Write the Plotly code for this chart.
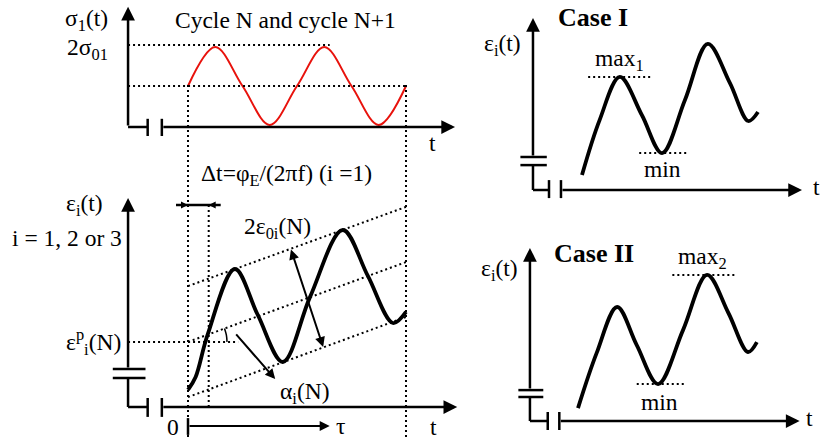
import plotly.graph_objects as go

W, H = 824, 443
FONT = "Liberation Serif"

# ---------------- data (schematic values) ----------------
# top-left: applied stress sigma_1(t); time in cycles, stress in units of sigma_01
stress_t = [0.0, 0.25, 0.5, 0.75, 1.0, 1.25, 1.5, 1.75, 2.0]
stress_v = [1.0, 1.95, 1.0, 0.05, 1.0, 1.95, 1.0, 0.05, 1.0]
stress_levels = [2.0, 1.0]          # 2*sigma_01 and sigma_01 reference levels

# bottom-left: strain response eps_i(t)
strain_t = [0.0, 0.07, 0.18, 0.43, 0.64, 0.87, 1.12, 1.42, 1.65, 1.88, 2.0]
strain_v = [0.57, 1.0, 2.41, 4.6, 3.07, 1.5, 3.67, 5.9, 4.37, 2.8, 3.17]
band_t = [0.0, 2.0]
band_upper = [4.03, 6.67]
band_mid = [2.17, 4.83]
band_lower = [0.33, 3.0]
eps_p = 2.17
delta_t = 0.19

# right: case I and case II strain responses
case1_t = [0.0, 0.2, 0.43, 0.68, 0.91, 1.17, 1.43, 1.68, 1.89, 2.0]
case1_v = [0.5, 2.33, 3.77, 2.5, 1.23, 3.0, 4.87, 3.57, 2.3, 2.6]
case2_t = [0.0, 0.21, 0.44, 0.66, 0.90, 1.18, 1.45, 1.69, 1.91, 2.01]
case2_v = [0.43, 2.27, 3.8, 2.53, 1.23, 3.03, 4.87, 3.6, 2.3, 2.63]


# ---------------- panel frames (pixel boxes -> axis domain / range) ----------------
def frame(px0, px1, py0, py1, x_org, x_scale, y_org, y_scale):
    return (dict(domain=[px0 / W, px1 / W],
                 range=[(px0 - x_org) / x_scale, (px1 - x_org) / x_scale]),
            dict(domain=[1 - py1 / H, 1 - py0 / H],
                 range=[(y_org - py1) / y_scale, (y_org - py0) / y_scale]))


xA, yA = frame(0, 824, 0, 145, 188, 109, 127, 41)
_, yB = frame(0, 824, 145, 443, 188, 109, 407, 30)
xC, yC = frame(470, 824, 0, 215, 582, 88, 190, 30)
xD, yD = frame(470, 824, 215, 443, 578, 89, 421, 30)

fig = go.Figure()
shapes, annos = [], []

BLK = "black"
DOT = "2px,3px"
AW = 2.5
FS = 23.5


def line(xr, yr, x0, y0, x1, y1, width=AW, dash=None, color=BLK):
    d = dict(color=color, width=width)
    if dash:
        d["dash"] = dash
    shapes.append(dict(type="line", xref=xr, yref=yr, x0=x0, y0=y0, x1=x1, y1=y1,
                       line=d, layer="above"))


def arrow(xr, yr, x0, y0, x1, y1, head=2, size=1.1, width=AW, both=False):
    annos.append(dict(xref=xr, yref=yr, axref=xr, ayref=yr, x=x1, y=y1, ax=x0, ay=y0,
                      text="", showarrow=True, arrowhead=head, startarrowhead=head,
                      arrowsize=size, startarrowsize=size, arrowwidth=width,
                      arrowcolor=BLK, standoff=0, startstandoff=0,
                      arrowside="end+start" if both else "end"))


def text(xr, yr, x, y, s, size=FS, xanchor="center", bold=False):
    if bold:
        s = "<b>" + s + "</b>"
    annos.append(dict(xref=xr, yref=yr, x=x, y=y, text=s, showarrow=False,
                      xanchor=xanchor, yanchor="middle",
                      font=dict(family=FONT, size=size, color=BLK)))


def axes_frame(xr, yr, x_ax, y_top, x_end, tick1, tick2, tick_lo, tick_hi,
               brk=None):
    # vertical axis with arrow, optional break, horizontal axis with break ticks
    if brk:
        hi, lo, bx0, bx1 = brk
        arrow(xr, yr, x_ax, hi, x_ax, y_top)
        line(xr, yr, bx0, hi, bx1, hi)
        line(xr, yr, bx0, lo, bx1, lo)
        line(xr, yr, x_ax, lo, x_ax, 0)
    else:
        arrow(xr, yr, x_ax, 0, x_ax, y_top)
    line(xr, yr, x_ax, 0, tick1, 0)
    line(xr, yr, tick1, tick_lo, tick1, tick_hi)
    line(xr, yr, tick2, tick_lo, tick2, tick_hi)
    arrow(xr, yr, tick2, 0, x_end, 0)


# ---------------- panel A: stress ----------------
fig.add_trace(go.Scatter(x=stress_t, y=stress_v, xaxis="x", yaxis="y", mode="lines",
                         line=dict(color="#e8120c", width=2, shape="spline", smoothing=1.0),
                         hoverinfo="skip"))
axes_frame("x", "y", -0.55, 2.93, 2.45, -0.37, -0.24, -0.22, 0.2)
line("x", "y", -0.55, stress_levels[0], 1.30, stress_levels[0], width=2, dash=DOT)
line("x", "y", -0.55, stress_levels[1], stress_t[-1], stress_levels[1], width=2, dash=DOT)
text("x", "y", -0.72, 2.61, "σ<sub>1</sub>(t)", xanchor="right")
text("x", "y", -0.72, 1.90, "2σ<sub>01</sub>", xanchor="right")
text("x", "y", 0.89, 2.61, "Cycle N and cycle N+1")
text("x", "y", 2.24, -0.40, "t")

# vertical dotted guides spanning both left panels
for tt in (stress_t[0], stress_t[-1]):
    shapes.append(dict(type="line", xref="x", yref="paper", x0=tt, x1=tt,
                       y0=1 - 85 / H, y1=1 - 437 / H,
                       line=dict(color=BLK, width=2, dash=DOT)))

# ---------------- panel B: strain ----------------
for band in (band_upper, band_mid, band_lower):
    fig.add_trace(go.Scatter(x=band_t, y=band, xaxis="x", yaxis="y2", mode="lines",
                             line=dict(color=BLK, width=2, dash=DOT), hoverinfo="skip"))
fig.add_trace(go.Scatter(x=strain_t, y=strain_v, xaxis="x", yaxis="y2", mode="lines",
                         line=dict(color=BLK, width=3.8, shape="spline", smoothing=1.0),
                         hoverinfo="skip"))
axes_frame("x", "y2", -0.55, 6.97, 2.47, -0.37, -0.24, -0.33, 0.3,
           brk=(1.27, 0.97, -0.69, -0.39))
line("x", "y2", -0.55, eps_p, 0.46, eps_p, width=2, dash=DOT)
line("x", "y2", delta_t, 6.73, delta_t, 0, width=2, dash=DOT)
line("x", "y2", -0.11, 6.73, 0.30, 6.73)
arrow("x", "y2", -0.11, 6.73, 0.0, 6.73, size=0.7, width=2)
arrow("x", "y2", 0.30, 6.73, delta_t, 6.73, size=0.7, width=2)
# angle arc alpha
fig.add_trace(go.Scatter(x=[0.335, 0.352, 0.358], y=[2.62, 2.40, 2.17], xaxis="x", yaxis="y2",
                         mode="lines", line=dict(color=BLK, width=1.5, shape="spline"),
                         hoverinfo="skip"))
arrow("x", "y2", 0.43, 2.47, 0.80, 0.93, size=1.0, width=2)
arrow("x", "y2", 0.94, 5.30, 1.24, 2.00, size=1.0, width=2, both=True)
# tau ruler
line("x", "y2", 0.0, -0.37, 0.0, -0.93)
arrow("x", "y2", 0.0, -0.63, 1.30, -0.63, size=1.0, width=2)

text("x", "y2", 0.90, 7.73, "Δt=φ<sub>E</sub>/(2πf) (i =1)")
text("x", "y2", -0.95, 6.73, "ε<sub>i</sub>(t)")
text("x", "y2", -1.11, 5.63, "i = 1, 2 or 3")
text("x", "y2", 0.82, 5.97, "2ε<sub>0i</sub>(N)")
text("x", "y2", 1.07, 0.47, "α<sub>i</sub>(N)")
text("x", "y2", -0.60, 2.17, "ε<sup>p</sup><sub>i</sub>(N)", xanchor="right")
text("x", "y2", -0.14, -0.67, "0")
text("x", "y2", 1.40, -0.63, "τ")
text("x", "y2", 2.25, -0.67, "t")

# ---------------- panel C: case I ----------------
fig.add_trace(go.Scatter(x=case1_t, y=case1_v, xaxis="x3", yaxis="y3", mode="lines",
                         line=dict(color=BLK, width=3.8, shape="spline", smoothing=1.0),
                         hoverinfo="skip"))
axes_frame("x3", "y3", -0.557, 5.73, 2.5, -0.375, -0.239, -0.27, 0.33,
           brk=(1.10, 0.83, -0.70, -0.40))
line("x3", "y3", 0.07, case1_v[2], 0.80, case1_v[2], width=2, dash=DOT)
line("x3", "y3", 0.65, case1_v[4], 1.19, case1_v[4], width=2, dash=DOT)
text("x3", "y3", -0.30, 5.75, "Case I", size=26, xanchor="left", bold=True)
text("x3", "y3", -0.90, 4.83, "ε<sub>i</sub>(t)")
text("x3", "y3", 0.43, 4.33, "max<sub>1</sub>")
text("x3", "y3", 0.92, 0.70, "min")
text("x3", "y3", 2.67, 0.10, "t")

# ---------------- panel D: case II ----------------
fig.add_trace(go.Scatter(x=case2_t, y=case2_v, xaxis="x4", yaxis="y4", mode="lines",
                         line=dict(color=BLK, width=3.8, shape="spline", smoothing=1.0),
                         hoverinfo="skip"))
axes_frame("x4", "y4", -0.54, 5.77, 2.49, -0.34, -0.21, -0.30, 0.30,
           brk=(1.03, 0.80, -0.67, -0.39))
line("x4", "y4", 1.06, case2_v[6], 1.76, case2_v[6], width=2, dash=DOT)
line("x4", "y4", 0.66, case2_v[4], 1.20, case2_v[4], width=2, dash=DOT)
text("x4", "y4", -0.29, 5.60, "Case II", size=26, xanchor="left", bold=True)
text("x4", "y4", -0.88, 5.03, "ε<sub>i</sub>(t)")
text("x4", "y4", 1.40, 5.43, "max<sub>2</sub>")
text("x4", "y4", 0.92, 0.63, "min")
text("x4", "y4", 2.60, 0.10, "t")


def ax(d, anchor):
    return dict(d, visible=False, fixedrange=True, anchor=anchor, showgrid=False,
                zeroline=False)


fig.update_layout(
    width=W, height=H, autosize=False,
    margin=dict(l=0, r=0, t=0, b=0),
    paper_bgcolor="white", plot_bgcolor="rgba(0,0,0,0)",
    showlegend=False,
    xaxis=ax(xA, "y"), yaxis=ax(yA, "x"), yaxis2=ax(yB, "x"),
    xaxis3=ax(xC, "y3"), yaxis3=ax(yC, "x3"),
    xaxis4=ax(xD, "y4"), yaxis4=ax(yD, "x4"),
    shapes=shapes, annotations=annos,
    font=dict(family=FONT, size=FS, color=BLK),
)

fig.write_html("out.html", config={"displayModeBar": False},
               post_script="document.body.style.margin='0px';"
                           "document.body.style.overflow='hidden';")
